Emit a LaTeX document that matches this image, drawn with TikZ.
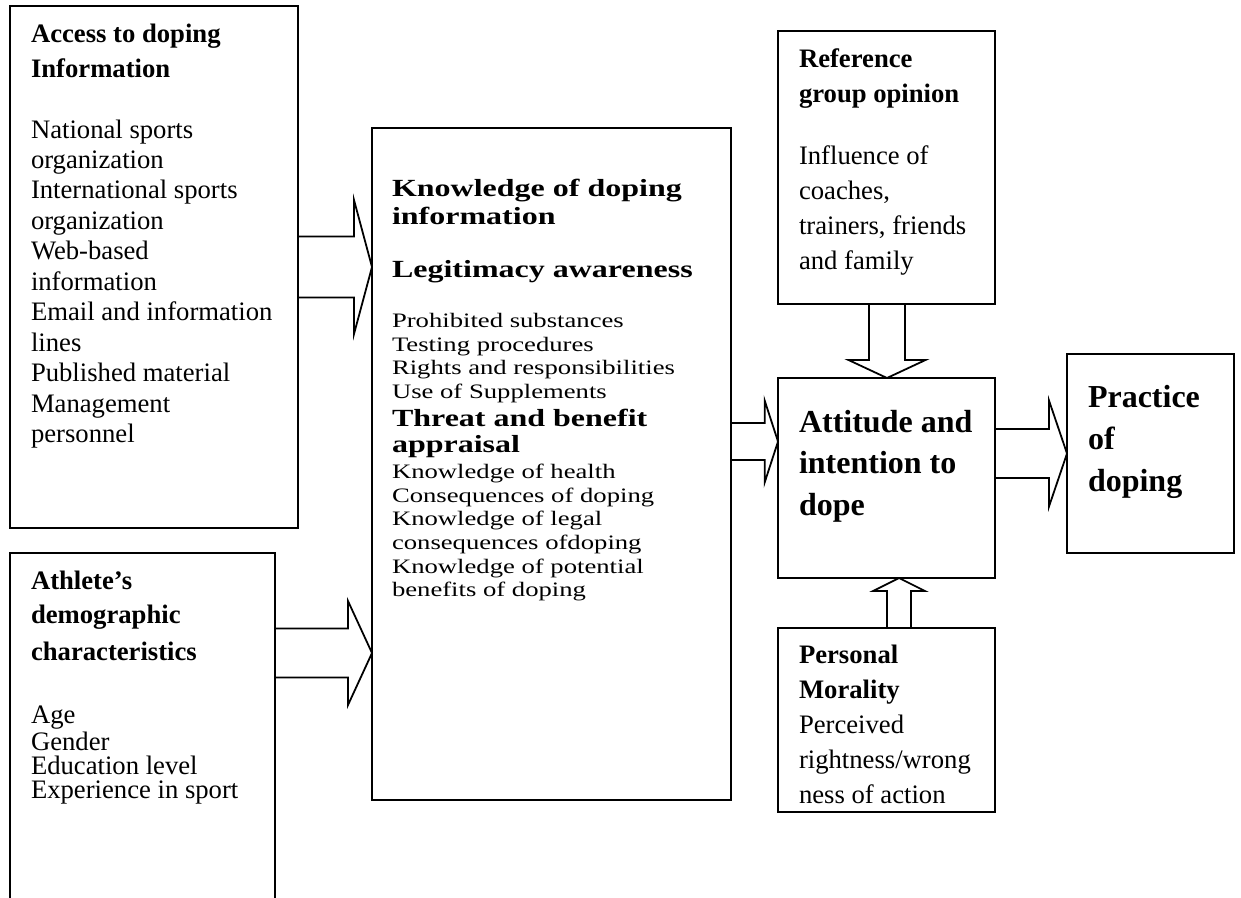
\documentclass[tikz,border=0pt]{standalone}
\usepackage{fontspec}
\setmainfont{Liberation Serif}
\usepackage{graphicx}
\usetikzlibrary{positioning, calc}

\newcommand{\HeadFont}{\fontsize{14.4}{13.8}\selectfont\bfseries}
\newcommand{\blockarrow}[5]{%
  \coordinate (#2-b) at ($(#2)!#5!(#1)$);
  \draw[BlockArrow] ($(#1)!#3!90:(#2)$) -- ($(#2-b)!#3!90:(#2)$) -- ($(#2-b)!#4!90:(#2)$) -- (#2)
    -- ($(#2-b)!#4!-90:(#2)$) -- ($(#2-b)!#3!-90:(#2)$) -- ($(#1)!#3!-90:(#2)$);}

\begin{document}
\begin{tikzpicture}[x=0.45pt, y=-0.45pt]
		\tikzstyle{Box} = [rectangle, draw=black, line width=0.9pt, anchor=north west, inner sep=0pt, outer sep=0pt]
		\tikzstyle{Text} = [anchor=north west, inner sep=0pt, outer sep=0pt]
		\tikzstyle{Lines} = [Text, align=left, font=\fontsize{12}{13.7}\selectfont]
		\tikzstyle{BlockArrow} = [draw=black, line width=0.8pt, line join=miter]

		\useasboundingbox (0,0) rectangle (1241,897);
		\clip (0,0) rectangle (1241,897);

		\node (acc) [Box, minimum width=129.6pt, minimum height=234.9pt] at (10,6) {};
		\node (ath) [Box, minimum width=119.25pt, minimum height=162pt] at (10,553) {};
		\node (know) [Box, minimum width=161.55pt, minimum height=302.4pt] at (372,128) {};
		\node (ref) [Box, minimum width=97.65pt, minimum height=122.85pt] at (778,31) {};
		\node (att) [Box, minimum width=97.65pt, minimum height=90pt] at (778,378) {};
		\node (pers) [Box, minimum width=97.65pt, minimum height=82.8pt] at (778,628) {};
		\node (prac) [Box, minimum width=75.15pt, minimum height=89.55pt] at (1067,354) {};

		\node (acc-txt) [Lines, below right=8pt and 9.45pt of acc.north west] {\textbf{Access to doping}\\[2pt]
			\textbf{Information}\\[13.7pt]
			National sports\\ organization\\ International sports\\ organization\\ Web-based\\ information\\
			Email and information\\ lines\\ Published material\\ Management\\ personnel};
		\node (ath-txt) [Lines, font=\fontsize{12}{10.8}\selectfont, below right=8pt and 9.45pt of ath.north west] {\textbf{Athlete’s}\\[4.7pt]
			\textbf{demographic}\\[4.7pt] \textbf{characteristics}\\[17.55pt]
			Age\\ Gender\\ Education level\\ Experience in sport};
		\node (know-txt) [Text, below right=23pt and 9pt of know.north west] {\scalebox{1}[0.77]{\parbox[t]{165pt}{\raggedright\fontsize{12}{13.8}\selectfont
			{\HeadFont Knowledge of doping}\\[2.7pt]
			{\HeadFont information}\\[16.8pt]
			{\HeadFont Legitimacy awareness}\\[15.8pt]
			Prohibited substances\\ Testing procedures\\ Rights and responsibilities\\ Use of Supplements\\[2.4pt]
			{\HeadFont Threat and benefit}\\[1.8pt]
			{\HeadFont appraisal}\\[1.2pt]
			Knowledge of health\\ Consequences of doping\\ Knowledge of legal\\ consequences ofdoping\\
			Knowledge of potential\\ benefits of doping}}};
		\node (ref-txt) [Lines, font=\fontsize{12}{15.75}\selectfont, below right=7.9pt and 9.45pt of ref.north west] {\textbf{Reference}\\
			\textbf{group opinion}\\[12.15pt]
			Influence of\\ coaches,\\ trainers, friends\\ and family};
		\node (att-txt) [Lines, font=\fontsize{14.4}{18.75}\selectfont\bfseries, below right=14.4pt and 9.45pt of att.north west] {Attitude and\\ intention to\\ dope};
		\node (pers-txt) [Lines, font=\fontsize{12}{15.75}\selectfont, below right=7.6pt and 9.45pt of pers.north west] {\textbf{Personal}\\
			\textbf{Morality}\\ Perceived\\ rightness/wrong\\ ness of action};
		\node (prac-txt) [Lines, font=\fontsize{14.4}{18.9}\selectfont\bfseries, below right=14pt and 9.45pt of prac.north west] {Practice\\ of\\ doping};

		\coordinate (a1s) at (acc.east |- 0,267);
		\coordinate (a1t) at (know.west |- a1s);
		\coordinate (a2s) at (ath.east |- 0,653);
		\coordinate (a2t) at (know.west |- a2s);
		\coordinate (a3s) at (know.east |- 0,441.5);
		\coordinate (a3t) at (att.west |- a3s);
		\coordinate (a4s) at (att.east |- 0,453.5);
		\coordinate (a4t) at (prac.west |- a4s);
		\coordinate (a5s) at (ref.south -| 887,0);
		\coordinate (a5t) at (att.north -| a5s);
		\coordinate (a6s) at (pers.north -| 899,0);
		\coordinate (a6t) at (att.south -| a6s);

		\blockarrow{a1s}{a1t}{13.73pt}{30.15pt}{8.1pt}
		\blockarrow{a2s}{a2t}{11.03pt}{23.4pt}{10.8pt}
		\blockarrow{a3s}{a3t}{8.33pt}{18.45pt}{6pt}
		\blockarrow{a4s}{a4t}{11.03pt}{23.85pt}{8.1pt}
		\blockarrow{a5s}{a5t}{8.1pt}{17.33pt}{8.1pt}
		\blockarrow{a6s}{a6t}{5.4pt}{11.7pt}{5.85pt}
\end{tikzpicture}
\end{document}
